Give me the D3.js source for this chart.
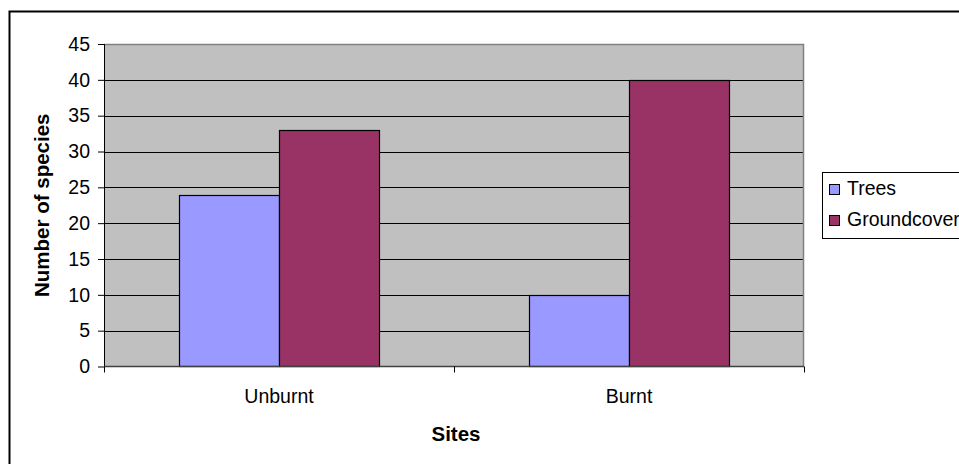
<!DOCTYPE html>
<html>
<head>
<meta charset="utf-8">
<script src="https://cdn.jsdelivr.net/npm/d3@7"></script>
<style>
  html, body { margin: 0; padding: 0; background: #fff; }
  svg { display: block; font-family: "Liberation Sans", Arial, sans-serif; }
</style>
</head>
<body>
<svg id="chart" width="959" height="464"></svg>
<script>
// Species counts by site
const categories = ["Unburnt", "Burnt"];
const seriesNames = ["Trees", "Groundcover"];
const trees = [24, 10];
const groundcover = [33, 40];
const yTicks = [0, 5, 10, 15, 20, 25, 30, 35, 40, 45];
const colors = ["#9999FF", "#993366"];

const svg = d3.select("#chart");
const FONT = "'Liberation Sans', Arial, sans-serif";
const FS = 19.5;

// Outer chart frame
svg.append("rect")
  .attr("x", 9.5).attr("y", 11.5)
  .attr("width", 980).attr("height", 480)
  .attr("fill", "#fff").attr("stroke", "#000").attr("stroke-width", 2);

const plot = { left: 104, right: 804, top: 44, bottom: 366.5 };

const x = d3.scaleBand().domain(categories).range([plot.left, plot.right]).paddingInner(0).paddingOuter(0);
const x1 = d3.scaleBand().domain(seriesNames).range([0, x.bandwidth()]).paddingInner(0).paddingOuter(0.75);
const y = d3.scaleLinear().domain([0, 45]).range([plot.bottom, plot.top]);

// Plot background
svg.append("rect")
  .attr("x", plot.left).attr("y", plot.top)
  .attr("width", plot.right - plot.left).attr("height", plot.bottom - plot.top)
  .attr("fill", "#C0C0C0");

// Horizontal gridlines
svg.append("g").selectAll("line")
  .data(yTicks.filter(d => d > 0 && d < 45))
  .join("line")
  .attr("x1", plot.left).attr("x2", plot.right)
  .attr("y1", d => Math.round(y(d)) + 0.5).attr("y2", d => Math.round(y(d)) + 0.5)
  .attr("stroke", "#000").attr("stroke-width", 1);

// Plot border (top and right are grey)
svg.append("path")
  .attr("d", `M${plot.left},${plot.top + 0.5}H${plot.right - 0.5}V${plot.bottom}`)
  .attr("fill", "none").attr("stroke", "#808080").attr("stroke-width", 1.5);

// Bars
const data = categories.map((c, i) => ({ cat: c, vals: [trees[i], groundcover[i]] }));
svg.append("g").selectAll("g")
  .data(data)
  .join("g")
  .attr("transform", d => `translate(${x(d.cat)},0)`)
  .selectAll("rect")
  .data(d => d.vals.map((v, j) => ({ name: seriesNames[j], v, j })))
  .join("rect")
  .attr("x", d => x1(d.name) + 0.5)
  .attr("width", x1.bandwidth())
  .attr("y", d => Math.round(y(d.v)) + 0.5)
  .attr("height", d => plot.bottom - Math.round(y(d.v)) - 0.5)
  .attr("fill", d => colors[d.j])
  .attr("stroke", "#000").attr("stroke-width", 1.2);

// Y axis
const yAxis = d3.axisLeft(y).tickValues(yTicks).tickSize(6).tickPadding(8);
const gy = svg.append("g").attr("transform", `translate(${plot.left},0)`).call(yAxis);
gy.select(".domain").attr("d", `M0.5,${plot.top}V${plot.bottom + 5}`).attr("stroke", "#000");
gy.selectAll(".tick line").attr("stroke", "#000");
gy.selectAll(".tick text").attr("font-size", FS).attr("fill", "#000").attr("font-family", FONT);

// X axis
const xAxis = d3.axisBottom(x).tickSize(0).tickPadding(18);
const gx = svg.append("g").attr("transform", `translate(0,${plot.bottom})`).call(xAxis);
gx.select(".domain").attr("stroke", "#404040").attr("stroke-width", 1.5)
  .attr("d", `M${plot.left},0H${plot.right}`);
gx.selectAll(".tick text").attr("font-size", FS).attr("fill", "#000").attr("font-family", FONT)
  .attr("dy", null).attr("y", 36);
// Category separator ticks
const sepTicks = [plot.left, ...categories.slice(1).map(c => x(c)), plot.right];
gx.append("g").selectAll("line").data(sepTicks).join("line")
  .attr("x1", d => d + 0.5).attr("x2", d => d + 0.5)
  .attr("y1", 0).attr("y2", 6).attr("stroke", "#000");

// Axis titles
svg.append("text")
  .attr("transform", `translate(44,${(plot.top + plot.bottom) / 2}) rotate(-90)`)
  .attr("text-anchor", "middle").attr("dominant-baseline", "middle")
  .attr("font-size", 20.5).attr("font-weight", "bold")
  .text("Number of species");

svg.append("text")
  .attr("x", 456).attr("y", 441)
  .attr("text-anchor", "middle")
  .attr("font-size", 20.5).attr("font-weight", "bold")
  .text("Sites");

// Legend
const lg = svg.append("g").attr("transform", "translate(822,172)");
lg.append("rect").attr("x", 0.5).attr("y", 0.5).attr("width", 200).attr("height", 66)
  .attr("fill", "#fff").attr("stroke", "#000").attr("stroke-width", 1);
const items = lg.selectAll("g.item").data(seriesNames).join("g")
  .attr("transform", (d, i) => `translate(7,${18 + i * 31})`);
items.append("rect").attr("x", 0.5).attr("y", -5.5).attr("width", 10).attr("height", 10)
  .attr("fill", (d, i) => colors[i]).attr("stroke", "#000");
items.append("text").attr("x", 18).attr("y", 0).attr("dominant-baseline", "middle")
  .attr("font-size", FS).text(d => d);
</script>
</body>
</html>
